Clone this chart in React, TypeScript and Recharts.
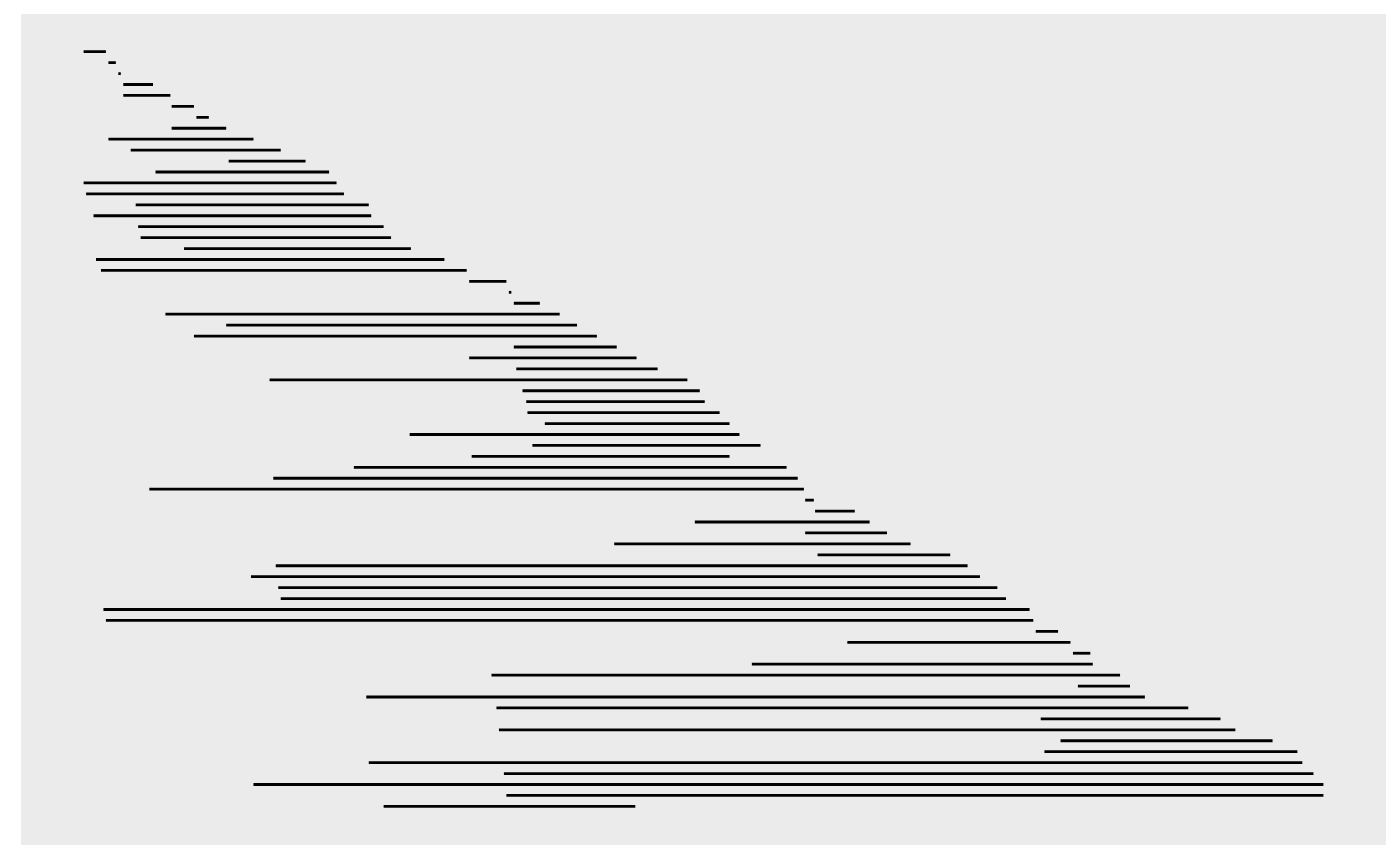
import React from "react";
import { BarChart, Bar, XAxis, YAxis, CartesianGrid } from "recharts";

const rows: number[] = Array.from({ length: 70 }, (_, i) => i + 1);

const starts: number[] = [
  0.0, 2.0, 2.8, 3.2, 3.2, 7.1, 9.1, 7.1, 2.0, 3.8,
  11.7, 5.8, 0.0, 0.2, 4.2, 0.8, 4.4, 4.6, 8.1, 1.0,
  1.4, 31.1, 34.3, 34.7, 6.6, 11.5, 8.9, 34.7, 31.1, 34.9,
  15.0, 35.4, 35.7, 35.8, 37.2, 26.3, 36.2, 31.3, 21.8, 15.3,
  5.3, 58.2, 59.0, 49.3, 58.2, 42.8, 59.2, 15.5, 13.5, 15.7,
  15.9, 1.6, 1.8, 76.8, 61.6, 79.8, 53.9, 32.9, 80.2, 22.8,
  33.3, 77.2, 33.5, 78.8, 77.5, 23.0, 33.9, 13.7, 34.1, 24.2,
];

const ends: number[] = [
  1.8, 2.6, 3.0, 5.6, 7.0, 8.9, 10.1, 11.5, 13.7, 15.9,
  17.9, 19.8, 20.4, 21.0, 23.0, 23.2, 24.2, 24.8, 26.4, 29.1,
  30.9, 34.1, 34.5, 36.8, 38.4, 39.8, 41.4, 43.0, 44.6, 46.3,
  48.7, 49.7, 50.1, 51.3, 52.1, 52.9, 54.6, 52.1, 56.7, 57.6,
  58.1, 58.9, 62.2, 63.4, 64.8, 66.7, 69.9, 71.3, 72.3, 73.7,
  74.4, 76.3, 76.6, 78.6, 79.6, 81.2, 81.4, 83.6, 84.4, 85.6,
  89.1, 91.7, 92.9, 95.9, 97.9, 98.3, 99.2, 100.0, 100.0, 44.5,
];

const data = rows.map((r, i) => ({ row: r, start: starts[i], end: ends[i] }));

export default function App() {
  return (
    <BarChart
      width={1384}
      height={850}
      data={data}
      layout="vertical"
      margin={{ top: 6, right: 6, bottom: 13, left: 13 }}
      barCategoryGap={0}
    >
      <CartesianGrid fill="#EBEBEB" horizontal={false} vertical={false} stroke="none" />
      <XAxis type="number" domain={[-5.05, 105.05]} hide allowDataOverflow />
      <YAxis
        type="category"
        dataKey="row"
        hide
        padding={{ top: 32.3, bottom: 33.1 }}
      />
      <Bar
        dataKey={(d: any) => [d.start, d.end]}
        fill="#000000"
        barSize={2.8}
        isAnimationActive={false}
      />
    </BarChart>
  );
}
